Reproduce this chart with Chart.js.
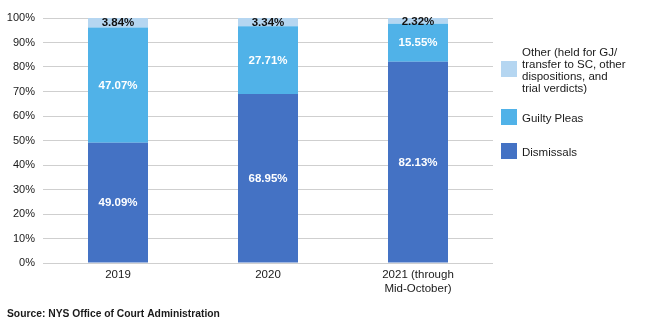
<!DOCTYPE html>
<html>
<head>
<meta charset="utf-8">
<script src="https://cdn.jsdelivr.net/npm/chart.js@4/dist/chart.umd.min.js"></script>
<style>
  html, body { margin: 0; padding: 0; background: #fff; }
  #wrap { width: 645px; height: 334px; position: relative; }
</style>
</head>
<body>
<div id="wrap"><canvas id="c" width="645" height="334"></canvas></div>
<script>
// Case disposition shares by year (percent of all dispositions)
const categories = ['2019', '2020', ['2021 (through', 'Mid-October)']];
const dismissals = [49.09, 68.95, 82.13];
const guiltyPleas = [47.07, 27.71, 15.55];
const otherDispositions = [3.84, 3.34, 2.32];
const seriesNames = ['Dismissals', 'Guilty Pleas', ['Other (held for GJ/', 'transfer to SC, other', 'dispositions, and', 'trial verdicts)']];
const seriesColors = ['#4472c4', '#50b2e8', '#b5d6f1'];
const labelColors = ['#ffffff', '#ffffff', '#111111'];
const sourceNote = 'Source: NYS Office of Court Administration';

const FONT = '"Liberation Sans", Arial, Helvetica, sans-serif';

// Values printed on each bar segment
const segmentLabels = {
  id: 'segmentLabels',
  afterDatasetsDraw(chart) {
    const ctx = chart.ctx;
    ctx.save();
    ctx.font = 'bold 11.5px ' + FONT;
    ctx.textAlign = 'center';
    ctx.textBaseline = 'middle';
    chart.data.datasets.forEach((ds, i) => {
      const meta = chart.getDatasetMeta(i);
      meta.data.forEach((bar, j) => {
        const v = ds.data[j];
        const props = bar.getProps(['x', 'y', 'base'], true);
        const cy = (props.y + props.base) / 2;
        ctx.fillStyle = labelColors[i];
        ctx.fillText(v.toFixed(2) + '%', props.x, cy + 0.5);
      });
    });
    ctx.restore();
  }
};

// Legend on the right (top entry is the top segment) plus the source line
const sideLegend = {
  id: 'sideLegend',
  afterDraw(chart) {
    const ctx = chart.ctx;
    ctx.save();
    ctx.font = '11.5px ' + FONT;
    ctx.textBaseline = 'middle';
    ctx.textAlign = 'left';
    const entries = [
      { idx: 2, y: 69 },
      { idx: 1, y: 117 },
      { idx: 0, y: 151 }
    ];
    entries.forEach(e => {
      ctx.fillStyle = seriesColors[e.idx];
      ctx.fillRect(501, e.y - 8, 16, 16);
      const name = seriesNames[e.idx];
      const lines = Array.isArray(name) ? name : [name];
      const lh = 11.8;
      const startY = e.y + 2 - (lines.length - 1) * lh / 2;
      ctx.fillStyle = '#1a1a1a';
      lines.forEach((ln, k) => ctx.fillText(ln, 522, startY + k * lh));
    });
    ctx.font = 'bold 10.3px ' + FONT;
    ctx.fillStyle = '#1a1a1a';
    ctx.fillText(sourceNote, 7, 314);
    ctx.restore();
  }
};

new Chart(document.getElementById('c'), {
  type: 'bar',
  data: {
    labels: categories,
    datasets: [
      { label: 'Dismissals', data: dismissals, backgroundColor: seriesColors[0] },
      { label: 'Guilty Pleas', data: guiltyPleas, backgroundColor: seriesColors[1] },
      { label: 'Other', data: otherDispositions, backgroundColor: seriesColors[2] }
    ]
  },
  options: {
    responsive: false,
    animation: false,
    devicePixelRatio: 1,
    layout: { padding: { top: 18, right: 152, bottom: 0, left: 0 } },
    datasets: { bar: { barPercentage: 0.8, categoryPercentage: 0.5 } },
    plugins: {
      legend: { display: false },
      tooltip: { enabled: false }
    },
    scales: {
      x: {
        stacked: true,
        grid: { display: false, drawTicks: false },
        border: { display: false },
        ticks: {
          color: '#1a1a1a',
          font: { family: FONT, size: 11.5 },
          padding: 5,
          maxRotation: 0
        },
        afterFit(scale) { scale.height = 71; }
      },
      y: {
        stacked: true,
        min: 0,
        max: 100,
        grid: { color: '#cfcfcf', lineWidth: 1, drawTicks: false },
        border: { display: false },
        ticks: {
          stepSize: 10,
          color: '#1a1a1a',
          font: { family: FONT, size: 11 },
          padding: 8,
          callback: v => v + '%'
        },
        afterFit(scale) { scale.width = 43; }
      }
    }
  },
  plugins: [segmentLabels, sideLegend]
});
</script>
</body>
</html>
